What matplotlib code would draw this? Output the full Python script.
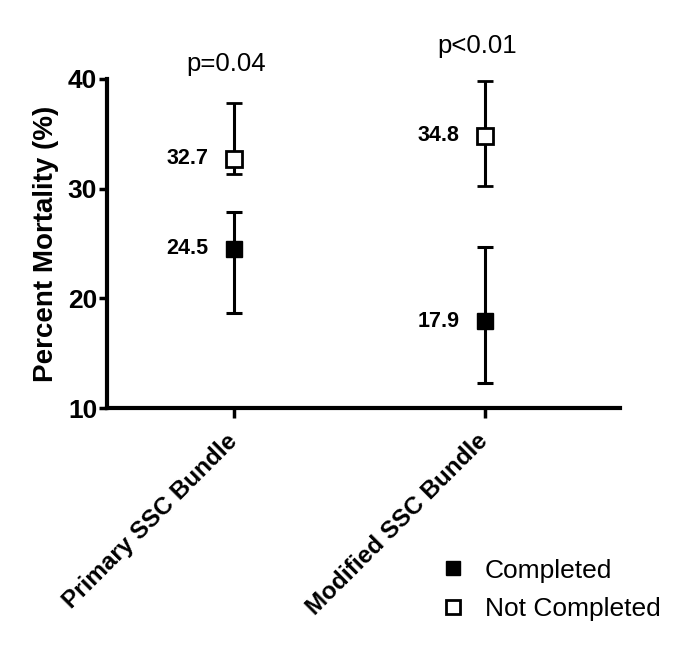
import matplotlib.pyplot as plt
from matplotlib.lines import Line2D
import numpy as np

plt.rcParams['font.family'] = ['Liberation Sans', 'DejaVu Sans']

# values
groups = ['Primary SSC Bundle', 'Modified SSC Bundle']
completed = [24.5, 17.9]
completed_lo = [18.7, 12.3]
completed_hi = [27.9, 24.7]
not_completed = [32.7, 34.8]
not_completed_lo = [31.3, 30.2]
not_completed_hi = [37.8, 39.8]
p_values = ['p=0.04', 'p<0.01']

x = np.arange(len(groups))

fig = plt.figure(figsize=(6.85, 6.51), dpi=100)
ax = fig.add_axes([0.156, 0.373, 0.749, 0.506])

c = np.array(completed)
n = np.array(not_completed)
c_err = [c - np.array(completed_lo), np.array(completed_hi) - c]
n_err = [n - np.array(not_completed_lo), np.array(not_completed_hi) - n]

ax.errorbar(x, c, yerr=c_err, fmt='s', color='black', mfc='black', ms=11,
            elinewidth=2.2, capsize=5.5, capthick=2.2, zorder=3)
ax.errorbar(x, n, yerr=n_err, fmt='s', color='black', mfc='white', mec='black',
            mew=2, ms=11, elinewidth=2.2, capsize=5.5, capthick=2.2, zorder=3)

# value labels to the left of each point
for xi, v in zip(x, completed):
    ax.text(xi - 0.1, v, f'{v}', ha='right', va='center', fontsize=15.5, fontweight='bold')
for xi, v in zip(x, not_completed):
    ax.text(xi - 0.1, v, f'{v}', ha='right', va='center', fontsize=15.5, fontweight='bold')

# p-values above the groups
p_y = [41.3, 43.0]
for xi, p, py in zip(x, p_values, p_y):
    ax.text(xi - 0.03, py, p, ha='center', va='center', fontsize=18.5, clip_on=False)

ax.set_xlim(-0.506, 1.54)
ax.set_ylim(10, 40)
ax.set_yticks([10, 20, 30, 40])
ax.set_xticks(x)
ax.set_xticklabels(groups, rotation=45, ha='right', va='center', rotation_mode='anchor',
                   fontsize=17.5, fontweight='bold')
for lbl in ax.get_yticklabels():
    lbl.set_fontweight('bold')
    lbl.set_fontsize(19)
ax.set_ylabel('Percent Mortality (%)', fontsize=20, fontweight='bold', labelpad=6)

ax.spines['top'].set_visible(False)
ax.spines['right'].set_visible(False)
ax.spines['left'].set_linewidth(3)
ax.spines['bottom'].set_linewidth(3)
ax.tick_params(axis='y', width=2.5, length=6, direction='out', pad=1)
ax.tick_params(axis='x', width=2.5, length=7, direction='out', pad=14)

handles = [Line2D([], [], ls='none', marker='s', ms=9.5, mfc='black', mec='black'),
           Line2D([], [], ls='none', marker='s', ms=9.5, mfc='white', mec='black', mew=2)]
fig.legend(handles, ['Completed', 'Not Completed'], loc='upper left',
           bbox_to_anchor=(0.642, 0.142), frameon=False, fontsize=19,
           handletextpad=0.7, labelspacing=0.56, handlelength=1.0,
           borderpad=0, borderaxespad=0)

fig.savefig('out.png', dpi=100)
